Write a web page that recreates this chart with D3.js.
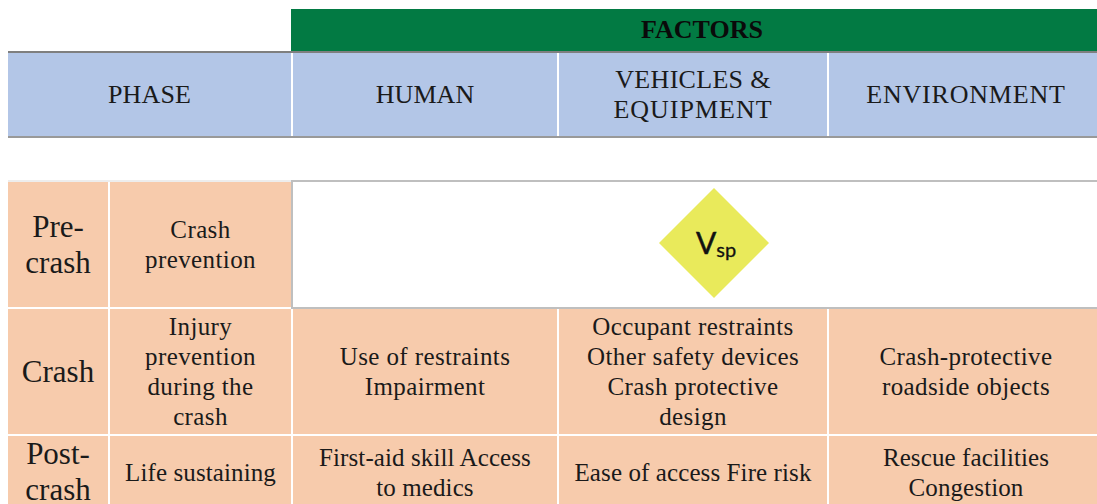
<!DOCTYPE html>
<html>
<head>
<meta charset="utf-8">
<script src="https://cdn.jsdelivr.net/npm/d3@7"></script>
<style>
html, body { margin: 0; padding: 0; background: #fff; }
svg { display: block; }
text { font-family: "Liberation Serif", serif; fill: #1a1a1a; text-anchor: middle; }
</style>
</head>
<body>
<div id="chart"></div>
<script>
// table content
const columns = ["stage", "phase", "human", "vehicles", "environment"]
const rows = ["pre", "crash", "post"]

const factorsTitle = "FACTORS"
const headers = [
	{col: "stage", span: "phase", lines: ["PHASE"]},
	{col: "human", lines: ["HUMAN"]},
	{col: "vehicles", lines: ["VEHICLES &", "EQUIPMENT"]},
	{col: "environment", lines: ["ENVIRONMENT"]}
]

const stages = [["Pre-", "crash"], ["Crash"], ["Post-", "crash"]]
const phases = [["Crash", "prevention"], ["Injury", "prevention", "during the", "crash"], ["Life sustaining"]]
const human = [null, ["Use of restraints", "Impairment"], ["First-aid skill Access", "to medics"]]
const vehicles = [null, ["Occupant restraints", "Other safety devices", "Crash protective", "design"], ["Ease of access Fire risk"]]
const environment = [null, ["Crash-protective", "roadside objects"], ["Rescue facilities", "Congestion"]]

const W = 1097, H = 504
const x0 = d3.scaleOrdinal(columns, [8, 110, 293, 559, 829])
const x1 = d3.scaleOrdinal(columns, [108, 291, 557, 827, 1097])
const y0 = d3.scaleOrdinal(rows, [182, 309, 436])
const y1 = d3.scaleOrdinal(rows, [307, 434, 504])

// Garamond runs wider on these caps than Liberation does
const extraSpacing = {"ENVIRONMENT": 0.8, "EQUIPMENT": 1, "VEHICLES &": 0.3}

const svg = d3.select("#chart").append("svg")
	.attr("width", W)
	.attr("height", H)
	.attr("viewBox", [0, 0, W, H])

const lineHeight = 29.7

const block = (lines, cx, cy, size, spacing, lh = lineHeight) => {
	return svg.append("g")
		.selectAll("text")
		.data(lines)
		.join("text")
		.attr("x", cx)
		.attr("y", (d, i) => cy + (i - (lines.length - 1) / 2) * lh + size * 0.31)
		.attr("font-size", size)
		.attr("letter-spacing", d => extraSpacing[d] || spacing)
		.text(d => d)
}

// the text in the last column sits a bit right of the cell centre
const textCentre = (a, b, col) => (a + b) / 2 + (col === "environment" ? 3 : 0)

// green band and header row
svg.append("rect").attr("x", 291).attr("y", 9).attr("width", W - 291).attr("height", 42).attr("fill", "#027a43")
block([factorsTitle], 702, 30, 26, 0)
	.attr("font-weight", "bold")
	.style("fill", "#0a0a0a")

svg.append("g")
	.selectAll("rect")
	.data(headers)
	.join("rect")
	.attr("x", d => x0(d.col))
	.attr("y", 53)
	.attr("width", d => x1(d.span || d.col) - x0(d.col))
	.attr("height", 83)
	.attr("fill", "#b3c6e7")

svg.append("rect").attr("x", 8).attr("y", 51).attr("width", W - 8).attr("height", 2).attr("fill", "#7f7f7f")
svg.append("rect").attr("x", 8).attr("y", 136).attr("width", W - 8).attr("height", 2).attr("fill", "#999")

headers.forEach(d => {
	block(d.lines, textCentre(x0(d.col), x1(d.span || d.col), d.col), 95, 26, 0.1)
})

// body cells
const bodyCols = {stage: stages, phase: phases, human, vehicles, environment}

columns.forEach(col => {
	rows.forEach((row, r) => {
		const lines = bodyCols[col][r]
		if (!lines) return
		svg.append("rect")
			.attr("x", x0(col))
			.attr("y", y0(row))
			.attr("width", x1(col) - x0(col))
			.attr("height", y1(row) - y0(row))
			.attr("fill", "#f7cbac")
		const cx = textCentre(x0(col), x1(col), col)
		const cy = (y0(row) + y1(row)) / 2
		if (col === "stage") block(lines, cx, cy + (r === 2 ? 2 : 0.5), 31, 0, 36)
		else block(lines, cx, cy + (r === 2 ? 3 : 0.7), 25, r === 2 ? 0.1 : 0.4)
	})
})

// pre-crash rules
svg.append("rect").attr("x", 8).attr("y", 180).attr("width", 283).attr("height", 2).attr("fill", "#ededed")
svg.append("rect").attr("x", 291).attr("y", 180).attr("width", W - 291).attr("height", 2).attr("fill", "#bfbfbf")
svg.append("rect").attr("x", 291).attr("y", 182).attr("width", 2).attr("height", 125).attr("fill", "#bfbfbf")
svg.append("rect").attr("x", 291).attr("y", 307).attr("width", W - 291).attr("height", 2).attr("fill", "#bfbfbf")

// Vsp diamond
const cx = 714, cy = 243, r = 55
svg.append("path")
	.attr("d", d3.line()([[cx, cy - r], [cx + r, cy], [cx, cy + r], [cx - r, cy]]) + "Z")
	.attr("fill", "#e9ea5b")
const vsp = svg.append("text")
	.attr("x", 716)
	.attr("y", 254)
	.style("font-family", "Lato, sans-serif")
	.style("fill", "#111")
vsp.append("tspan").attr("font-size", 30).attr("stroke", "#111").attr("stroke-width", 0.5).text("V")
vsp.append("tspan").attr("font-size", 20).attr("dy", 3).attr("stroke", "#111").attr("stroke-width", 0.3).text("sp")
</script>
</body>
</html>
